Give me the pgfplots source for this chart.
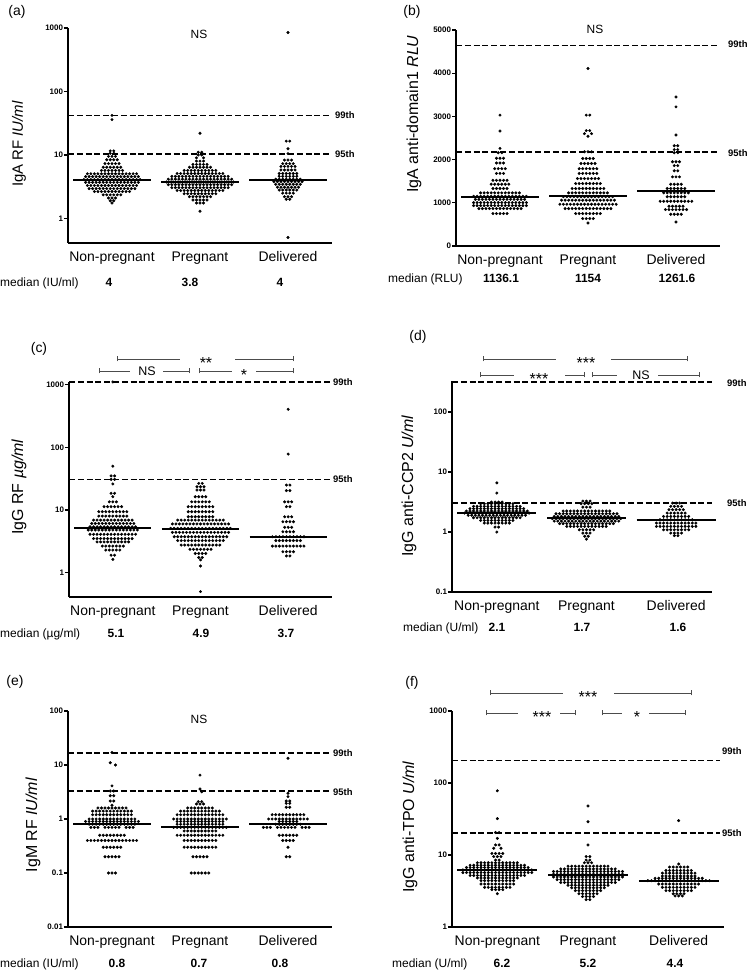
\documentclass[border=0pt]{standalone}
\usepackage{pgfplots}
\pgfplotsset{compat=1.18}
\usepackage{fontspec}
\setmainfont{Liberation Sans}
\newcommand{\fs}[1]{\fontsize{#1}{#1}\selectfont}

\pgfplotsset{
  panel/.style={scale only axis, anchor=north west, axis lines*=left, clip=false,
    axis line style={line width=1.8bp},
    xmin=0, xmax=150, xtick={25,75,125},
    xticklabels={Non-pregnant,Pregnant,Delivered},
    x tick style={draw=none},
    xticklabel style={font=\fs{14}, yshift=-1bp},
    tick align=outside, major tick length=4bp,
    y tick style={line width=1.2bp, black},
    yticklabel style={font=\bfseries\fs{8}, inner sep=0.8bp},
    yminorticks=false},
  dots/.style={only marks, mark=*, mark size=1.3bp, black},
  med/.style={black, line width=2bp},
  ref/.style={black, line width=1.5bp, dash pattern=on 6bp off 2.8bp},
}
\tikzset{brk/.style={draw=black!70, line width=0.7bp}}
\newcommand{\brk}[5]{%
  \draw[brk] (#2bp,#1bp) -- (#3bp,#1bp) (#4bp,#1bp) -- (#5bp,#1bp);
  \draw[brk] (#2bp,#1bp) ++(0,-2.5bp) -- ++(0,5bp) (#5bp,#1bp) ++(0,-2.5bp) -- ++(0,5bp);}

\begin{document}
\begin{tikzpicture}
\useasboundingbox (0,0) rectangle (750bp,970bp);

% ---------------- (a) IgA RF
\begin{axis}[panel, at={(68bp,942bp)}, width=264bp, height=215bp,
  ymode=log, ymin=0.41, ymax=1000, ytick={1,10,100,1000}, yticklabels={1,10,100,1000}]
\addplot[ref] coordinates {(0,42)(150,42)};
\addplot[ref] coordinates {(0,10.3)(150,10.3)};
\addplot[med] coordinates {(3,4)(47,4)};
\addplot[med] coordinates {(53,3.8)(97,3.8)};
\addplot[med] coordinates {(103,4)(147,4)};
\addplot[dots] coordinates {
(25,42)(25,36)(24,11.6)(26,11.6)(24,10.6)(26,10.6)(23,9.5)(25,9.5)(27,9.5)
(22,8.4)(24,8.4)(26,8.4)(28,8.4)(21,7.3)(23,7.3)(25,7.3)(27,7.3)(29,7.3)
(20,6.4)(22,6.4)(24,6.4)(26,6.4)(28,6.4)(30,6.4)
(19,5.7)(21,5.7)(23,5.7)(25,5.7)(27,5.7)(29,5.7)(31,5.7)
(11,5.05)(13,5.05)(15,5.05)(17,5.05)(19,5.05)(21,5.05)(23,5.05)(25,5.05)(27,5.05)(29,5.05)(31,5.05)(33,5.05)(35,5.05)(37,5.05)(39,5.05)
(10,4.55)(12,4.55)(14,4.55)(16,4.55)(18,4.55)(20,4.55)(22,4.55)(24,4.55)(26,4.55)(28,4.55)(30,4.55)(32,4.55)(34,4.55)(36,4.55)(38,4.55)(40,4.55)
(9,4.1)(11,4.1)(13,4.1)(15,4.1)(17,4.1)(19,4.1)(21,4.1)(23,4.1)(25,4.1)(27,4.1)(29,4.1)(31,4.1)(33,4.1)(35,4.1)(37,4.1)(39,4.1)(41,4.1)
(10,3.7)(12,3.7)(14,3.7)(16,3.7)(18,3.7)(20,3.7)(22,3.7)(24,3.7)(26,3.7)(28,3.7)(30,3.7)(32,3.7)(34,3.7)(36,3.7)(38,3.7)(40,3.7)
(11,3.3)(13,3.3)(15,3.3)(17,3.3)(19,3.3)(21,3.3)(23,3.3)(25,3.3)(27,3.3)(29,3.3)(31,3.3)(33,3.3)(35,3.3)(37,3.3)(39,3.3)
(12,2.95)(14,2.95)(16,2.95)(18,2.95)(20,2.95)(22,2.95)(24,2.95)(26,2.95)(28,2.95)(30,2.95)(32,2.95)(34,2.95)(36,2.95)(38,2.95)
(15,2.65)(17,2.65)(19,2.65)(21,2.65)(23,2.65)(25,2.65)(27,2.65)(29,2.65)(31,2.65)(33,2.65)(35,2.65)
(20,2.35)(22,2.35)(24,2.35)(26,2.35)(28,2.35)(30,2.35)(23,2.1)(25,2.1)(27,2.1)(24,1.9)(26,1.9)(25,1.75)
(75,22)(74,11)(76,11)(74,10)(76,10)(73,9)(77,9)(73,8)(75,8)(77,8)
(71,7.1)(73,7.1)(75,7.1)(77,7.1)(79,7.1)
(69,6.4)(71,6.4)(73,6.4)(75,6.4)(77,6.4)(79,6.4)(81,6.4)
(66,5.7)(68,5.7)(70,5.7)(72,5.7)(74,5.7)(76,5.7)(78,5.7)(80,5.7)(82,5.7)(84,5.7)
(62,5.1)(64,5.1)(66,5.1)(68,5.1)(70,5.1)(72,5.1)(74,5.1)(76,5.1)(78,5.1)(80,5.1)(82,5.1)(84,5.1)(86,5.1)(88,5.1)
(59,4.6)(61,4.6)(63,4.6)(65,4.6)(67,4.6)(69,4.6)(71,4.6)(73,4.6)(75,4.6)(77,4.6)(79,4.6)(81,4.6)(83,4.6)(85,4.6)(87,4.6)(89,4.6)(91,4.6)
(57,4.15)(59,4.15)(61,4.15)(63,4.15)(65,4.15)(67,4.15)(69,4.15)(71,4.15)(73,4.15)(75,4.15)(77,4.15)(79,4.15)(81,4.15)(83,4.15)(85,4.15)(87,4.15)(89,4.15)(91,4.15)(93,4.15)
(56,3.75)(58,3.75)(60,3.75)(62,3.75)(64,3.75)(66,3.75)(68,3.75)(70,3.75)(72,3.75)(74,3.75)(76,3.75)(78,3.75)(80,3.75)(82,3.75)(84,3.75)(86,3.75)(88,3.75)(90,3.75)(92,3.75)(94,3.75)
(57,3.4)(59,3.4)(61,3.4)(63,3.4)(65,3.4)(67,3.4)(69,3.4)(71,3.4)(73,3.4)(75,3.4)(77,3.4)(79,3.4)(81,3.4)(83,3.4)(85,3.4)(87,3.4)(89,3.4)(91,3.4)(93,3.4)
(59,3.05)(61,3.05)(63,3.05)(65,3.05)(67,3.05)(69,3.05)(71,3.05)(73,3.05)(75,3.05)(77,3.05)(79,3.05)(81,3.05)(83,3.05)(85,3.05)(87,3.05)(89,3.05)(91,3.05)
(62,2.75)(64,2.75)(66,2.75)(68,2.75)(70,2.75)(72,2.75)(74,2.75)(76,2.75)(78,2.75)(80,2.75)(82,2.75)(84,2.75)(86,2.75)(88,2.75)
(66,2.45)(68,2.45)(70,2.45)(72,2.45)(74,2.45)(76,2.45)(78,2.45)(80,2.45)(82,2.45)(84,2.45)
(69,2.2)(71,2.2)(73,2.2)(75,2.2)(77,2.2)(79,2.2)(81,2.2)
(71,1.95)(73,1.95)(75,1.95)(77,1.95)(79,1.95)(73,1.75)(75,1.75)(77,1.75)(75,1.3)
(125,850)(124,16.5)(126,16.5)(125,12.5)(125,10.5)(123,8.3)(125,8.3)(127,8.3)
(122,7.3)(124,7.3)(126,7.3)(128,7.3)(121,6.6)(123,6.6)(125,6.6)(127,6.6)(129,6.6)
(121,5.8)(123,5.8)(125,5.8)(127,5.8)(129,5.8)
(120,5.1)(122,5.1)(124,5.1)(126,5.1)(128,5.1)(130,5.1)
(120,4.6)(122,4.6)(124,4.6)(126,4.6)(128,4.6)(130,4.6)
(118,4.15)(120,4.15)(122,4.15)(124,4.15)(126,4.15)(128,4.15)(130,4.15)(132,4.15)
(117,3.8)(119,3.8)(121,3.8)(123,3.8)(125,3.8)(127,3.8)(129,3.8)(131,3.8)(133,3.8)
(118,3.45)(120,3.45)(122,3.45)(124,3.45)(126,3.45)(128,3.45)(130,3.45)(132,3.45)
(119,3.1)(121,3.1)(123,3.1)(125,3.1)(127,3.1)(129,3.1)(131,3.1)
(120,2.8)(122,2.8)(124,2.8)(126,2.8)(128,2.8)(130,2.8)
(122,2.5)(124,2.5)(126,2.5)(128,2.5)(123,2.2)(125,2.2)(127,2.2)(124,2)(126,2)(125,0.5)
};
\end{axis}

% ---------------- (b) IgA anti-domain1
\begin{axis}[panel, at={(456bp,940bp)}, width=264bp, height=216bp,
  ymin=0, ymax=5000, ytick={0,1000,2000,3000,4000,5000},
  yticklabels={0,1000,2000,3000,4000,5000}, scaled y ticks=false]
\addplot[ref] coordinates {(0,4640)(150,4640)};
\addplot[ref] coordinates {(0,2170)(150,2170)};
\addplot[med] coordinates {(3,1136)(47,1136)};
\addplot[med] coordinates {(53,1154)(97,1154)};
\addplot[med] coordinates {(103,1262)(147,1262)};
\addplot[dots] coordinates {
(25,3030)(25,2660)(25,2260)(24,2160)(26,2160)
(23,2030)(25,2030)(27,2030)(23,1920)(25,1920)(27,1920)
(22,1790)(24,1790)(26,1790)(28,1790)(23,1680)(25,1680)(27,1680)
(21,1520)(23,1520)(25,1520)(27,1520)(29,1520)
(20,1430)(22,1430)(24,1430)(26,1430)(28,1430)(30,1430)
(21,1330)(23,1330)(25,1330)(27,1330)(29,1330)
(14,1230)(16,1230)(18,1230)(20,1230)(22,1230)(24,1230)(26,1230)(28,1230)(30,1230)(32,1230)(34,1230)(36,1230)
(10,1150)(12,1150)(14,1150)(16,1150)(18,1150)(20,1150)(22,1150)(24,1150)(26,1150)(28,1150)(30,1150)(32,1150)(34,1150)(36,1150)(38,1150)(40,1150)
(11,1080)(13,1080)(15,1080)(17,1080)(19,1080)(21,1080)(23,1080)(25,1080)(27,1080)(29,1080)(31,1080)(33,1080)(35,1080)(37,1080)(39,1080)
(10,1005)(12,1005)(14,1005)(16,1005)(18,1005)(20,1005)(22,1005)(24,1005)(26,1005)(28,1005)(30,1005)(32,1005)(34,1005)(36,1005)(38,1005)(40,1005)
(10,935)(12,935)(14,935)(16,935)(18,935)(20,935)(22,935)(24,935)(26,935)(28,935)(30,935)(32,935)(34,935)(36,935)(38,935)(40,935)
(13,866)(15,866)(17,866)(19,866)(21,866)(23,866)(25,866)(27,866)(29,866)(31,866)(33,866)(35,866)(37,866)
(21,750)(23,750)(25,750)(27,750)(29,750)
(75,4110)(74,3030)(76,3030)(74,2670)(76,2670)(73,2600)(77,2600)(75,2540)
(73,2180)(75,2180)(77,2180)(72,2025)(74,2025)(76,2025)(78,2025)
(71,1910)(73,1910)(75,1910)(77,1910)(79,1910)
(70,1790)(72,1790)(74,1790)(76,1790)(78,1790)(80,1790)
(70,1680)(72,1680)(74,1680)(76,1680)(78,1680)(80,1680)
(69,1560)(71,1560)(73,1560)(75,1560)(77,1560)(79,1560)(81,1560)
(68,1445)(70,1445)(72,1445)(74,1445)(76,1445)(78,1445)(80,1445)(82,1445)
(66,1330)(68,1330)(70,1330)(72,1330)(74,1330)(76,1330)(78,1330)(80,1330)(82,1330)(84,1330)
(64,1230)(66,1230)(68,1230)(70,1230)(72,1230)(74,1230)(76,1230)(78,1230)(80,1230)(82,1230)(84,1230)(86,1230)
(61,1140)(63,1140)(65,1140)(67,1140)(69,1140)(71,1140)(73,1140)(75,1140)(77,1140)(79,1140)(81,1140)(83,1140)(85,1140)(87,1140)(89,1140)
(60,1060)(62,1060)(64,1060)(66,1060)(68,1060)(70,1060)(72,1060)(74,1060)(76,1060)(78,1060)(80,1060)(82,1060)(84,1060)(86,1060)(88,1060)(90,1060)
(59,966)(61,966)(63,966)(65,966)(67,966)(69,966)(71,966)(73,966)(75,966)(77,966)(79,966)(81,966)(83,966)(85,966)(87,966)(89,966)(91,966)
(62,866)(64,866)(66,866)(68,866)(70,866)(72,866)(74,866)(76,866)(78,866)(80,866)(82,866)(84,866)(86,866)(88,866)
(68,750)(70,750)(72,750)(74,750)(76,750)(78,750)(80,750)(82,750)
(72,634)(74,634)(76,634)(78,634)(75,533)
(125,3450)(125,3220)(125,2570)(124,2320)(126,2320)(124,2230)(126,2230)(124,2160)(126,2160)
(123,1950)(125,1950)(127,1950)(124,1860)(126,1860)(124,1740)(126,1740)
(123,1600)(125,1600)(127,1600)(122,1430)(124,1430)(126,1430)(128,1430)
(120,1330)(122,1330)(124,1330)(126,1330)(128,1330)(130,1330)
(118,1230)(120,1230)(122,1230)(124,1230)(126,1230)(128,1230)(130,1230)(132,1230)
(120,1140)(122,1140)(124,1140)(126,1140)(128,1140)(130,1140)
(116,1035)(118,1035)(120,1035)(122,1035)(124,1035)(126,1035)(128,1035)(130,1035)(132,1035)(134,1035)
(121,920)(123,920)(125,920)(127,920)(129,920)
(119,842)(121,842)(123,842)(125,842)(127,842)(129,842)(131,842)
(122,734)(124,734)(126,734)(128,734)(125,556)
};
\end{axis}

% ---------------- (c) IgG RF
\begin{axis}[panel, at={(69bp,588bp)}, width=263bp, height=215bp,
  ymode=log, ymin=0.41, ymax=1100, ytick={1,10,100,1000}, yticklabels={1,10,100,1000}]
\addplot[ref] coordinates {(0,1100)(150,1100)};
\addplot[ref] coordinates {(0,30.5)(150,30.5)};
\addplot[med] coordinates {(3,5.1)(47,5.1)};
\addplot[med] coordinates {(53,4.9)(97,4.9)};
\addplot[med] coordinates {(103,3.7)(147,3.7)};
\addplot[dots] coordinates {
(25,1100)(25,50)(24,35)(26,35)(24,30.8)(26,30.8)(25,26)(24,18.5)(26,18.5)(25,16.3)
(23,13.5)(25,13.5)(27,13.5)(20,11.3)(22,11.3)(24,11.3)(26,11.3)(28,11.3)(30,11.3)
(17,9.4)(19,9.4)(21,9.4)(23,9.4)(25,9.4)(27,9.4)(29,9.4)(31,9.4)(33,9.4)
(17,8)(19,8)(21,8)(23,8)(25,8)(27,8)(29,8)(31,8)(33,8)
(14,6.9)(16,6.9)(18,6.9)(20,6.9)(22,6.9)(24,6.9)(26,6.9)(28,6.9)(30,6.9)(32,6.9)(34,6.9)(36,6.9)
(13,6.1)(15,6.1)(17,6.1)(19,6.1)(21,6.1)(23,6.1)(25,6.1)(27,6.1)(29,6.1)(31,6.1)(33,6.1)(35,6.1)(37,6.1)
(12,5.4)(14,5.4)(16,5.4)(18,5.4)(20,5.4)(22,5.4)(24,5.4)(26,5.4)(28,5.4)(30,5.4)(32,5.4)(34,5.4)(36,5.4)(38,5.4)
(11,4.8)(13,4.8)(15,4.8)(17,4.8)(19,4.8)(21,4.8)(23,4.8)(25,4.8)(27,4.8)(29,4.8)(31,4.8)(33,4.8)(35,4.8)(37,4.8)(39,4.8)
(12,4.1)(14,4.1)(16,4.1)(18,4.1)(20,4.1)(22,4.1)(24,4.1)(26,4.1)(28,4.1)(30,4.1)(32,4.1)(34,4.1)(36,4.1)(38,4.1)
(14,3.5)(16,3.5)(18,3.5)(20,3.5)(22,3.5)(24,3.5)(26,3.5)(28,3.5)(30,3.5)(32,3.5)(34,3.5)(36,3.5)
(16,3.1)(18,3.1)(20,3.1)(22,3.1)(24,3.1)(26,3.1)(28,3.1)(30,3.1)(32,3.1)(34,3.1)
(19,2.66)(21,2.66)(23,2.66)(25,2.66)(27,2.66)(29,2.66)(31,2.66)
(21,2.3)(23,2.3)(25,2.3)(27,2.3)(29,2.3)(24,1.9)(26,1.9)(25,1.63)
(74,26.6)(76,26.6)(73,23.5)(75,23.5)(77,23.5)(73,20.8)(75,20.8)(77,20.8)
(72,16.3)(74,16.3)(76,16.3)(78,16.3)(70,13.5)(72,13.5)(74,13.5)(76,13.5)(78,13.5)(80,13.5)
(68,11.3)(70,11.3)(72,11.3)(74,11.3)(76,11.3)(78,11.3)(80,11.3)(82,11.3)
(68,9.4)(70,9.4)(72,9.4)(74,9.4)(76,9.4)(78,9.4)(80,9.4)(82,9.4)
(68,7.8)(70,7.8)(72,7.8)(74,7.8)(76,7.8)(78,7.8)(80,7.8)(82,7.8)
(62,6.9)(64,6.9)(66,6.9)(68,6.9)(70,6.9)(72,6.9)(74,6.9)(76,6.9)(78,6.9)(80,6.9)(82,6.9)(84,6.9)(86,6.9)(88,6.9)
(59,6)(61,6)(63,6)(65,6)(67,6)(69,6)(71,6)(73,6)(75,6)(77,6)(79,6)(81,6)(83,6)(85,6)(87,6)(89,6)(91,6)
(58,5.1)(60,5.1)(62,5.1)(64,5.1)(66,5.1)(68,5.1)(70,5.1)(72,5.1)(74,5.1)(76,5.1)(78,5.1)(80,5.1)(82,5.1)(84,5.1)(86,5.1)(88,5.1)(90,5.1)(92,5.1)
(59,4.4)(61,4.4)(63,4.4)(65,4.4)(67,4.4)(69,4.4)(71,4.4)(73,4.4)(75,4.4)(77,4.4)(79,4.4)(81,4.4)(83,4.4)(85,4.4)(87,4.4)(89,4.4)(91,4.4)
(60,3.75)(62,3.75)(64,3.75)(66,3.75)(68,3.75)(70,3.75)(72,3.75)(74,3.75)(76,3.75)(78,3.75)(80,3.75)(82,3.75)(84,3.75)(86,3.75)(88,3.75)(90,3.75)
(62,3.25)(64,3.25)(66,3.25)(68,3.25)(70,3.25)(72,3.25)(74,3.25)(76,3.25)(78,3.25)(80,3.25)(82,3.25)(84,3.25)(86,3.25)(88,3.25)
(64,2.76)(66,2.76)(68,2.76)(70,2.76)(72,2.76)(74,2.76)(76,2.76)(78,2.76)(80,2.76)(82,2.76)(84,2.76)(86,2.76)
(69,2.36)(71,2.36)(73,2.36)(75,2.36)(77,2.36)(79,2.36)(81,2.36)
(72,2.03)(74,2.03)(76,2.03)(78,2.03)(74,1.75)(76,1.75)(75,1.6)(75,1.28)(75,0.5)
(125,404)(125,78)(124,25)(126,25)(124,20.4)(126,20.4)(123,13.5)(125,13.5)(127,13.5)(124,11.3)(126,11.3)
(123,7.8)(125,7.8)(127,7.8)(122,6.5)(124,6.5)(126,6.5)(128,6.5)(123,5.3)(125,5.3)(127,5.3)
(122,4.5)(124,4.5)(126,4.5)(128,4.5)
(116,3.75)(118,3.75)(120,3.75)(122,3.75)(124,3.75)(126,3.75)(128,3.75)(130,3.75)(132,3.75)(134,3.75)
(118,3.25)(120,3.25)(122,3.25)(124,3.25)(126,3.25)(128,3.25)(130,3.25)(132,3.25)
(116,2.66)(118,2.66)(120,2.66)(122,2.66)(124,2.66)(126,2.66)(128,2.66)(130,2.66)(132,2.66)(134,2.66)
(122,2.16)(124,2.16)(126,2.16)(128,2.16)(124,1.85)(126,1.85)
};
\end{axis}

% ---------------- (d) IgG anti-CCP2
\begin{axis}[panel, at={(452bp,589bp)}, width=260bp, height=211bp, xmax=145,
  ymode=log, ymin=0.1, ymax=330, ytick={0.1,1,10,100}, yticklabels={0.1,1,10,100}]
\addplot[ref] coordinates {(0,316)(145,316)};
\addplot[ref] coordinates {(0,3.05)(145,3.05)};
\addplot[med] coordinates {(3,2.1)(47,2.1)};
\addplot[med] coordinates {(53,1.7)(97,1.7)};
\addplot[med] coordinates {(103,1.6)(147,1.6)};
\addplot[dots] coordinates {
(25,6.6)(25,4.47)(22,3.16)(24,3.16)(26,3.16)(28,3.16)
(16,2.97)(18,2.97)(20,2.97)(22,2.97)(24,2.97)(26,2.97)(28,2.97)(30,2.97)(32,2.97)(34,2.97)
(12,2.68)(14,2.68)(16,2.68)(18,2.68)(20,2.68)(22,2.68)(24,2.68)(26,2.68)(28,2.68)(30,2.68)(32,2.68)(34,2.68)(36,2.68)(38,2.68)
(10,2.45)(12,2.45)(14,2.45)(16,2.45)(18,2.45)(20,2.45)(22,2.45)(24,2.45)(26,2.45)(28,2.45)(30,2.45)(32,2.45)(34,2.45)(36,2.45)(38,2.45)(40,2.45)
(8,2.24)(10,2.24)(12,2.24)(14,2.24)(16,2.24)(18,2.24)(20,2.24)(22,2.24)(24,2.24)(26,2.24)(28,2.24)(30,2.24)(32,2.24)(34,2.24)(36,2.24)(38,2.24)(40,2.24)(42,2.24)
(7,2.07)(9,2.07)(11,2.07)(13,2.07)(15,2.07)(17,2.07)(19,2.07)(21,2.07)(23,2.07)(25,2.07)(27,2.07)(29,2.07)(31,2.07)(33,2.07)(35,2.07)(37,2.07)(39,2.07)(41,2.07)(43,2.07)
(9,1.9)(11,1.9)(13,1.9)(15,1.9)(17,1.9)(19,1.9)(21,1.9)(23,1.9)(25,1.9)(27,1.9)(29,1.9)(31,1.9)(33,1.9)(35,1.9)(37,1.9)(39,1.9)(41,1.9)
(12,1.73)(14,1.73)(16,1.73)(18,1.73)(20,1.73)(22,1.73)(24,1.73)(26,1.73)(28,1.73)(30,1.73)(32,1.73)(34,1.73)(36,1.73)(38,1.73)
(16,1.56)(18,1.56)(20,1.56)(22,1.56)(24,1.56)(26,1.56)(28,1.56)(30,1.56)(32,1.56)(34,1.56)
(18,1.41)(20,1.41)(22,1.41)(24,1.41)(26,1.41)(28,1.41)(30,1.41)(32,1.41)(24,1.21)(26,1.21)(25,1)
(73,3.28)(75,3.28)(77,3.28)(72,2.97)(74,2.97)(76,2.97)(78,2.97)(73,2.6)(75,2.6)(77,2.6)
(62,2.24)(64,2.24)(66,2.24)(68,2.24)(70,2.24)(72,2.24)(74,2.24)(76,2.24)(78,2.24)(80,2.24)(82,2.24)(84,2.24)(86,2.24)(88,2.24)
(58,2.02)(60,2.02)(62,2.02)(64,2.02)(66,2.02)(68,2.02)(70,2.02)(72,2.02)(74,2.02)(76,2.02)(78,2.02)(80,2.02)(82,2.02)(84,2.02)(86,2.02)(88,2.02)(90,2.02)(92,2.02)
(57,1.82)(59,1.82)(61,1.82)(63,1.82)(65,1.82)(67,1.82)(69,1.82)(71,1.82)(73,1.82)(75,1.82)(77,1.82)(79,1.82)(81,1.82)(83,1.82)(85,1.82)(87,1.82)(89,1.82)(91,1.82)(93,1.82)
(56,1.67)(58,1.67)(60,1.67)(62,1.67)(64,1.67)(66,1.67)(68,1.67)(70,1.67)(72,1.67)(74,1.67)(76,1.67)(78,1.67)(80,1.67)(82,1.67)(84,1.67)(86,1.67)(88,1.67)(90,1.67)(92,1.67)(94,1.67)
(57,1.52)(59,1.52)(61,1.52)(63,1.52)(65,1.52)(67,1.52)(69,1.52)(71,1.52)(73,1.52)(75,1.52)(77,1.52)(79,1.52)(81,1.52)(83,1.52)(85,1.52)(87,1.52)(89,1.52)(91,1.52)(93,1.52)
(60,1.38)(62,1.38)(64,1.38)(66,1.38)(68,1.38)(70,1.38)(72,1.38)(74,1.38)(76,1.38)(78,1.38)(80,1.38)(82,1.38)(84,1.38)(86,1.38)(88,1.38)(90,1.38)
(64,1.24)(66,1.24)(68,1.24)(70,1.24)(72,1.24)(74,1.24)(76,1.24)(78,1.24)(80,1.24)(82,1.24)(84,1.24)(86,1.24)
(71,1.09)(73,1.09)(75,1.09)(77,1.09)(79,1.09)(73,0.96)(75,0.96)(77,0.96)(74,0.85)(76,0.85)(75,0.76)
(123,3.04)(125,3.04)(127,3.04)(122,2.68)(124,2.68)(126,2.68)(128,2.68)
(121,2.36)(123,2.36)(125,2.36)(127,2.36)(129,2.36)
(120,2.07)(122,2.07)(124,2.07)(126,2.07)(128,2.07)(130,2.07)
(118,1.82)(120,1.82)(122,1.82)(124,1.82)(126,1.82)(128,1.82)(130,1.82)(132,1.82)
(116,1.6)(118,1.6)(120,1.6)(122,1.6)(124,1.6)(126,1.6)(128,1.6)(130,1.6)(132,1.6)(134,1.6)
(114,1.41)(116,1.41)(118,1.41)(120,1.41)(122,1.41)(124,1.41)(126,1.41)(128,1.41)(130,1.41)(132,1.41)(134,1.41)(136,1.41)
(114,1.24)(116,1.24)(118,1.24)(120,1.24)(122,1.24)(124,1.24)(126,1.24)(128,1.24)(130,1.24)(132,1.24)(134,1.24)(136,1.24)
(118,1.09)(120,1.09)(122,1.09)(124,1.09)(126,1.09)(128,1.09)(130,1.09)(132,1.09)
(122,0.96)(124,0.96)(126,0.96)(128,0.96)(124,0.87)(126,0.87)
};
\end{axis}

% ---------------- (e) IgM RF
\begin{axis}[panel, at={(68bp,259bp)}, width=264bp, height=216bp,
  ymode=log, ymin=0.01, ymax=100, ytick={0.01,0.1,1,10,100}, yticklabels={0.01,0.1,1,10,100}]
\addplot[ref] coordinates {(0,16.7)(150,16.7)};
\addplot[ref] coordinates {(0,3.3)(150,3.3)};
\addplot[med] coordinates {(3,0.8)(47,0.8)};
\addplot[med] coordinates {(53,0.7)(97,0.7)};
\addplot[med] coordinates {(103,0.8)(147,0.8)};
\addplot[dots] coordinates {
(25,17)(24,11)(27,10)(25,4.1)(24,3.3)(26,3.3)(24,2.7)(26,2.7)(24,2.15)(26,2.15)(25,1.8)
(17,1.6)(19,1.6)(21,1.6)(23,1.6)(25,1.6)(27,1.6)(29,1.6)(31,1.6)(33,1.6)
(14,1.4)(16,1.4)(18,1.4)(20,1.4)(22,1.4)(24,1.4)(26,1.4)(28,1.4)(30,1.4)(32,1.4)(34,1.4)(36,1.4)
(14,1.2)(16,1.2)(18,1.2)(20,1.2)(22,1.2)(24,1.2)(26,1.2)(28,1.2)(30,1.2)(32,1.2)(34,1.2)(36,1.2)
(12,1)(14,1)(16,1)(18,1)(20,1)(22,1)(24,1)(26,1)(28,1)(30,1)(32,1)(34,1)(36,1)(38,1)
(10,0.9)(12,0.9)(14,0.9)(16,0.9)(18,0.9)(20,0.9)(22,0.9)(24,0.9)(26,0.9)(28,0.9)(30,0.9)(32,0.9)(34,0.9)(36,0.9)(38,0.9)(40,0.9)
(12,0.8)(14,0.8)(16,0.8)(18,0.8)(20,0.8)(22,0.8)(24,0.8)(26,0.8)(28,0.8)(30,0.8)(32,0.8)(34,0.8)(36,0.8)(38,0.8)
(13,0.7)(15,0.7)(17,0.7)(21,0.7)(23,0.7)(25,0.7)(27,0.7)(29,0.7)(33,0.7)(35,0.7)(37,0.7)
(18,0.5)(20,0.5)(22,0.5)(24,0.5)(26,0.5)(28,0.5)(30,0.5)(32,0.5)
(11,0.4)(13,0.4)(15,0.4)(17,0.4)(19,0.4)(21,0.4)(23,0.4)(25,0.4)(27,0.4)(29,0.4)(31,0.4)(33,0.4)(35,0.4)(37,0.4)(39,0.4)
(20,0.3)(22,0.3)(24,0.3)(26,0.3)(28,0.3)(30,0.3)(21,0.2)(23,0.2)(25,0.2)(27,0.2)(29,0.2)(23,0.1)(25,0.1)(27,0.1)
(75,6.5)(75,3.6)(76,3.2)(74,2.1)(76,2.1)(73,1.9)(75,1.9)(77,1.9)
(68,1.6)(70,1.6)(72,1.6)(74,1.6)(76,1.6)(78,1.6)(80,1.6)(82,1.6)
(64,1.4)(66,1.4)(68,1.4)(70,1.4)(72,1.4)(74,1.4)(76,1.4)(78,1.4)(80,1.4)(82,1.4)(84,1.4)(86,1.4)
(62,1.2)(64,1.2)(66,1.2)(68,1.2)(70,1.2)(72,1.2)(74,1.2)(76,1.2)(78,1.2)(80,1.2)(82,1.2)(84,1.2)(86,1.2)(88,1.2)
(60,1)(62,1)(64,1)(66,1)(68,1)(70,1)(72,1)(74,1)(76,1)(78,1)(80,1)(82,1)(84,1)(86,1)(88,1)(90,1)
(62,0.9)(64,0.9)(66,0.9)(68,0.9)(70,0.9)(72,0.9)(74,0.9)(76,0.9)(78,0.9)(80,0.9)(82,0.9)(84,0.9)(86,0.9)(88,0.9)
(62,0.8)(64,0.8)(66,0.8)(68,0.8)(70,0.8)(72,0.8)(74,0.8)(76,0.8)(78,0.8)(80,0.8)(82,0.8)(84,0.8)(86,0.8)(88,0.8)
(60,0.7)(62,0.7)(64,0.7)(66,0.7)(68,0.7)(70,0.7)(72,0.7)(74,0.7)(76,0.7)(78,0.7)(80,0.7)(82,0.7)(84,0.7)(86,0.7)(88,0.7)(90,0.7)
(66,0.6)(68,0.6)(70,0.6)(72,0.6)(74,0.6)(76,0.6)(78,0.6)(80,0.6)(82,0.6)(84,0.6)
(62,0.5)(64,0.5)(66,0.5)(68,0.5)(70,0.5)(72,0.5)(74,0.5)(76,0.5)(78,0.5)(80,0.5)(82,0.5)(84,0.5)(86,0.5)(88,0.5)
(66,0.4)(68,0.4)(70,0.4)(72,0.4)(74,0.4)(76,0.4)(78,0.4)(80,0.4)(82,0.4)(84,0.4)
(66,0.3)(68,0.3)(70,0.3)(72,0.3)(74,0.3)(76,0.3)(78,0.3)(80,0.3)(82,0.3)(84,0.3)
(71,0.2)(73,0.2)(75,0.2)(77,0.2)(79,0.2)(70,0.1)(72,0.1)(74,0.1)(76,0.1)(78,0.1)(80,0.1)
(125,13.3)(125,3)(125,2.6)(124,2.15)(126,2.15)(124,1.95)(126,1.95)(124,1.65)(126,1.65)
(116,1.2)(118,1.2)(120,1.2)(122,1.2)(124,1.2)(126,1.2)(128,1.2)(130,1.2)(132,1.2)(134,1.2)
(114,1)(116,1)(118,1)(120,1)(122,1)(124,1)(126,1)(128,1)(130,1)(132,1)(134,1)(136,1)
(120,0.9)(122,0.9)(124,0.9)(126,0.9)(128,0.9)(130,0.9)
(118,0.8)(120,0.8)(122,0.8)(124,0.8)(126,0.8)(128,0.8)(130,0.8)(132,0.8)
(111,0.7)(113,0.7)(115,0.7)(119,0.7)(121,0.7)(123,0.7)(125,0.7)(127,0.7)(129,0.7)(133,0.7)(135,0.7)(137,0.7)
(120,0.5)(122,0.5)(124,0.5)(126,0.5)(128,0.5)(130,0.5)(122,0.4)(124,0.4)(126,0.4)(128,0.4)
(125,0.3)(124,0.2)(126,0.2)
};
\end{axis}

% ---------------- (f) IgG anti-TPO
\begin{axis}[panel, at={(452bp,259bp)}, width=272bp, height=216bp,
  ymode=log, ymin=1, ymax=1000, ytick={1,10,100,1000}, yticklabels={1,10,100,1000}]
\addplot[ref] coordinates {(0,206)(148,206)};
\addplot[ref] coordinates {(0,20.2)(148,20.2)};
\addplot[med] coordinates {(3,6.2)(47,6.2)};
\addplot[med] coordinates {(53,5.2)(97,5.2)};
\addplot[med] coordinates {(103,4.4)(147,4.4)};
\addplot[dots] coordinates {
(25,78)(25,32)(24,20.5)(26,20.5)(25,17)(24,13.8)(26,13.8)(23,12.4)(27,12.4)
(22,10.5)(24,10.5)(26,10.5)(28,10.5)(23,9.5)(25,9.5)(27,9.5)(24,8.5)(26,8.5)
(14,7.8)(16,7.8)(18,7.8)(20,7.8)(22,7.8)(24,7.8)(26,7.8)(28,7.8)(30,7.8)(32,7.8)(34,7.8)(36,7.8)
(10,7.2)(12,7.2)(14,7.2)(16,7.2)(18,7.2)(20,7.2)(22,7.2)(24,7.2)(26,7.2)(28,7.2)(30,7.2)(32,7.2)(34,7.2)(36,7.2)(38,7.2)(40,7.2)
(8,6.7)(10,6.7)(12,6.7)(14,6.7)(16,6.7)(18,6.7)(20,6.7)(22,6.7)(24,6.7)(26,6.7)(28,6.7)(30,6.7)(32,6.7)(34,6.7)(36,6.7)(38,6.7)(40,6.7)(42,6.7)
(6,6.2)(8,6.2)(10,6.2)(12,6.2)(14,6.2)(16,6.2)(18,6.2)(20,6.2)(22,6.2)(24,6.2)(26,6.2)(28,6.2)(30,6.2)(32,6.2)(34,6.2)(36,6.2)(38,6.2)(40,6.2)(42,6.2)(44,6.2)
(6,5.7)(8,5.7)(10,5.7)(12,5.7)(14,5.7)(16,5.7)(18,5.7)(20,5.7)(22,5.7)(24,5.7)(26,5.7)(28,5.7)(30,5.7)(32,5.7)(34,5.7)(36,5.7)(38,5.7)(40,5.7)(42,5.7)(44,5.7)
(10,5.2)(12,5.2)(14,5.2)(16,5.2)(18,5.2)(20,5.2)(22,5.2)(24,5.2)(26,5.2)(28,5.2)(30,5.2)(32,5.2)(34,5.2)(36,5.2)(38,5.2)(40,5.2)
(14,4.8)(16,4.8)(18,4.8)(20,4.8)(22,4.8)(24,4.8)(26,4.8)(28,4.8)(30,4.8)(32,4.8)(34,4.8)(36,4.8)
(16,4.4)(18,4.4)(20,4.4)(22,4.4)(24,4.4)(26,4.4)(28,4.4)(30,4.4)(32,4.4)(34,4.4)
(16,3.95)(18,3.95)(20,3.95)(22,3.95)(24,3.95)(26,3.95)(28,3.95)(30,3.95)(32,3.95)(34,3.95)
(18,3.55)(20,3.55)(22,3.55)(24,3.55)(26,3.55)(28,3.55)(30,3.55)(32,3.55)
(22,3.3)(24,3.3)(26,3.3)(28,3.3)(25,2.9)
(75,48)(75,29)(75,13.8)(74,9.5)(76,9.5)(74,8.5)(76,8.5)(73,7.8)(75,7.8)(77,7.8)
(64,7)(66,7)(68,7)(70,7)(72,7)(74,7)(76,7)(78,7)(80,7)(82,7)(84,7)(86,7)
(60,6.4)(62,6.4)(64,6.4)(66,6.4)(68,6.4)(70,6.4)(72,6.4)(74,6.4)(76,6.4)(78,6.4)(80,6.4)(82,6.4)(84,6.4)(86,6.4)(88,6.4)(90,6.4)
(56,5.9)(58,5.9)(60,5.9)(62,5.9)(64,5.9)(66,5.9)(68,5.9)(70,5.9)(72,5.9)(74,5.9)(76,5.9)(78,5.9)(80,5.9)(82,5.9)(84,5.9)(86,5.9)(88,5.9)(90,5.9)(92,5.9)(94,5.9)
(56,5.4)(58,5.4)(60,5.4)(62,5.4)(64,5.4)(66,5.4)(68,5.4)(70,5.4)(72,5.4)(74,5.4)(76,5.4)(78,5.4)(80,5.4)(82,5.4)(84,5.4)(86,5.4)(88,5.4)(90,5.4)(92,5.4)(94,5.4)
(56,4.95)(58,4.95)(60,4.95)(62,4.95)(64,4.95)(66,4.95)(68,4.95)(70,4.95)(72,4.95)(74,4.95)(76,4.95)(78,4.95)(80,4.95)(82,4.95)(84,4.95)(86,4.95)(88,4.95)(90,4.95)(92,4.95)(94,4.95)
(58,4.55)(60,4.55)(62,4.55)(64,4.55)(66,4.55)(68,4.55)(70,4.55)(72,4.55)(74,4.55)(76,4.55)(78,4.55)(80,4.55)(82,4.55)(84,4.55)(86,4.55)(88,4.55)(90,4.55)(92,4.55)
(60,4.15)(62,4.15)(64,4.15)(66,4.15)(68,4.15)(70,4.15)(72,4.15)(74,4.15)(76,4.15)(78,4.15)(80,4.15)(82,4.15)(84,4.15)(86,4.15)(88,4.15)(90,4.15)
(64,3.8)(66,3.8)(68,3.8)(70,3.8)(72,3.8)(74,3.8)(76,3.8)(78,3.8)(80,3.8)(82,3.8)(84,3.8)(86,3.8)
(66,3.5)(68,3.5)(70,3.5)(72,3.5)(74,3.5)(76,3.5)(78,3.5)(80,3.5)(82,3.5)(84,3.5)
(68,3.2)(70,3.2)(72,3.2)(74,3.2)(76,3.2)(78,3.2)(80,3.2)(82,3.2)
(70,2.9)(72,2.9)(74,2.9)(76,2.9)(78,2.9)(80,2.9)(72,2.65)(74,2.65)(76,2.65)(78,2.65)(74,2.4)(76,2.4)
(125,30)(125,7.5)(120,6.8)(122,6.8)(124,6.8)(126,6.8)(128,6.8)(130,6.8)
(118,6.1)(120,6.1)(122,6.1)(124,6.1)(126,6.1)(128,6.1)(130,6.1)(132,6.1)
(116,5.6)(118,5.6)(120,5.6)(122,5.6)(124,5.6)(126,5.6)(128,5.6)(130,5.6)(132,5.6)(134,5.6)
(116,5.1)(118,5.1)(120,5.1)(122,5.1)(124,5.1)(126,5.1)(128,5.1)(130,5.1)(132,5.1)(134,5.1)
(112,4.75)(114,4.75)(116,4.75)(118,4.75)(120,4.75)(122,4.75)(124,4.75)(126,4.75)(128,4.75)(130,4.75)(132,4.75)(134,4.75)(136,4.75)(138,4.75)
(108,4.4)(110,4.4)(112,4.4)(114,4.4)(116,4.4)(118,4.4)(120,4.4)(122,4.4)(124,4.4)(126,4.4)(128,4.4)(130,4.4)(132,4.4)(134,4.4)(136,4.4)(138,4.4)(140,4.4)(142,4.4)
(114,3.95)(116,3.95)(118,3.95)(120,3.95)(122,3.95)(124,3.95)(126,3.95)(128,3.95)(130,3.95)(132,3.95)(134,3.95)(136,3.95)
(116,3.55)(118,3.55)(120,3.55)(122,3.55)(124,3.55)(126,3.55)(128,3.55)(130,3.55)(132,3.55)(134,3.55)
(118,3.2)(120,3.2)(122,3.2)(124,3.2)(126,3.2)(128,3.2)(130,3.2)(132,3.2)
(122,2.9)(124,2.9)(126,2.9)(128,2.9)(123,2.7)(125,2.7)(127,2.7)
};
\end{axis}

% ---------------- panel letters
\node[font=\fs{14}] at (17bp,958bp) {(a)};
\node[font=\fs{14}] at (412bp,958bp) {(b)};
\node[font=\fs{14}] at (39bp,621bp) {(c)};
\node[font=\fs{14}] at (418bp,633bp) {(d)};
\node[font=\fs{14}] at (15bp,288bp) {(e)};
\node[font=\fs{14}] at (412bp,287bp) {(f)};

% ---------------- y axis titles
\node[rotate=90, font=\fs{15}] at (19bp,826bp) {IgA RF \textit{IU/ml}};
\node[rotate=90, font=\fs{16}] at (414bp,856bp) {IgA anti-domain1 \textit{RLU}};
\node[rotate=90, font=\fs{16}] at (19bp,483bp) {IgG RF \textit{µg/ml}};
\node[rotate=90, font=\fs{16}] at (409bp,484bp) {IgG anti-CCP2 \textit{U/ml}};
\node[rotate=90, font=\fs{16}] at (33bp,145bp) {IgM RF \textit{IU/ml}};
\node[rotate=90, font=\fs{16}] at (410bp,143bp) {IgG anti-TPO \textit{U/ml}};

% ---------------- percentile labels
\begin{scope}[every node/.style={anchor=west, font=\bfseries\fs{9.5}, inner sep=0pt}]
\node at (335bp,855bp) {99th}; \node at (335bp,816bp) {95th};
\node at (728bp,926bp) {99th}; \node at (728bp,817bp) {95th};
\node at (333bp,588bp) {99th}; \node at (333bp,491bp) {95th};
\node at (727bp,587bp) {99th}; \node at (727bp,467bp) {95th};
\node at (333bp,217bp) {99th}; \node at (333bp,178bp) {95th};
\node at (722bp,219bp) {99th}; \node at (722bp,137bp) {95th};
\end{scope}

% ---------------- median rows
\begin{scope}[every node/.style={anchor=base, font=\bfseries\fs{12}, inner sep=0pt}]
\node[anchor=base west, font=\fs{12}] at (0bp,683.7bp) {median (IU/ml)};
\node at (109bp,683.7bp) {4}; \node at (190bp,683.7bp) {3.8}; \node at (280bp,683.7bp) {4};
\node[anchor=base west, font=\fs{12}] at (388bp,687.7bp) {median (RLU)};
\node at (501bp,687.7bp) {1136.1}; \node at (588bp,687.7bp) {1154}; \node at (677bp,687.7bp) {1261.6};
\node[anchor=base west, font=\fs{12}] at (0bp,332.7bp) {median (µg/ml)};
\node at (116bp,332.7bp) {5.1}; \node at (201bp,332.7bp) {4.9}; \node at (286bp,332.7bp) {3.7};
\node[anchor=base west, font=\fs{12}] at (403bp,338.7bp) {median (U/ml)};
\node at (497bp,338.7bp) {2.1}; \node at (582bp,338.7bp) {1.7}; \node at (678bp,338.7bp) {1.6};
\node[anchor=base west, font=\fs{12}] at (0bp,2.7bp) {median (IU/ml)};
\node at (117bp,2.7bp) {0.8}; \node at (199bp,2.7bp) {0.7}; \node at (280bp,2.7bp) {0.8};
\node[anchor=base west, font=\fs{12}] at (392bp,2.7bp) {median (U/ml)};
\node at (502bp,2.7bp) {6.2}; \node at (588bp,2.7bp) {5.2}; \node at (675bp,2.7bp) {4.4};
\end{scope}

% ---------------- significance
\node[font=\fs{12}] at (199bp,936bp) {NS};
\node[font=\fs{12}] at (595bp,941bp) {NS};
\node[font=\fs{12}] at (199bp,251bp) {NS};
% (c)
\brk{611}{117}{180}{235}{293}
\brk{599}{99}{130}{163}{189}
\brk{599}{199}{232}{256}{293}
\node[anchor=base, font=\fs{16}, inner sep=0pt] at (206bp,601.7bp) {**};
\node[font=\fs{12.5}] at (147bp,599bp) {NS};
\node[anchor=base, font=\fs{16}, inner sep=0pt] at (244bp,589.7bp) {*};
% (d)
\brk{611}{483}{556}{611}{687}
\brk{595}{480}{514}{565}{584}
\brk{595}{592}{617}{658}{699}
\node[anchor=base, font=\fs{16}, inner sep=0pt] at (586bp,601.7bp) {***};
\node[anchor=base, font=\fs{16}, inner sep=0pt] at (539bp,585.7bp) {***};
\node[font=\fs{12.5}] at (641bp,595bp) {NS};
% (f)
\brk{277}{490}{563}{614}{691}
\brk{257}{486}{518}{560}{575}
\brk{257}{602}{622}{649}{685}
\node[anchor=base, font=\fs{16}, inner sep=0pt] at (588bp,267.7bp) {***};
\node[anchor=base, font=\fs{16}, inner sep=0pt] at (542bp,247.7bp) {***};
\node[anchor=base, font=\fs{16}, inner sep=0pt] at (637bp,247.7bp) {*};
\end{tikzpicture}
\end{document}
